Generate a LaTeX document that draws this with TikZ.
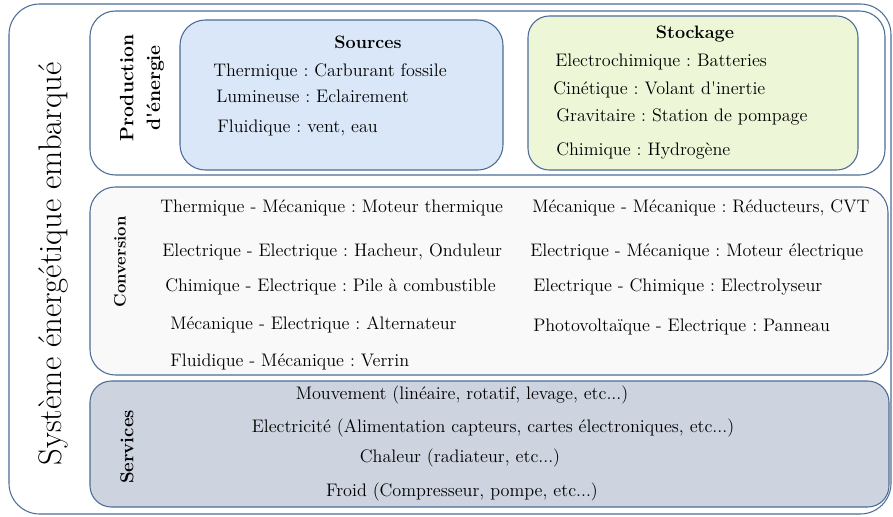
\documentclass[tikz,border=0pt]{standalone}
\usepackage{fontspec}
\definecolor{edge}{RGB}{76,108,150}
\definecolor{srcfill}{RGB}{218,231,248}
\definecolor{stofill}{RGB}{238,246,216}
\definecolor{convfill}{RGB}{249,249,249}
\definecolor{servfill}{RGB}{205,211,223}
\frenchspacing
\begin{document}
\begin{tikzpicture}[x=0.75pt,y=-0.75pt]
        \useasboundingbox (0,0) rectangle (893,517);
        \tikzstyle{panel}=[draw=edge, line width=0.8pt, rounded corners=19pt];
        \tikzstyle{item}=[anchor=west, inner sep=0pt, font=\fontsize{13.6}{16}\selectfont];
        \tikzstyle{line}=[inner sep=0pt, font=\fontsize{13.6}{16}\selectfont];
        \tikzstyle{title}=[inner sep=0pt, font=\bfseries\fontsize{13.5}{16}\selectfont];
        \tikzstyle{side}=[rotate=90, inner sep=0pt, align=center, font=\bfseries\fontsize{14}{16}\selectfont];

        % frames
        \draw[panel, fill=white, rounded corners=23pt] (9,4) rectangle (891,514);
        \draw[panel, fill=white] (90,11) rectangle (885,175);
        \draw[panel, fill=srcfill] (180,20) rectangle (503,170);
        \draw[panel, fill=stofill, rounded corners=16pt] (528,16) rectangle (858,170);
        \draw[panel, fill=convfill] (90,187) rectangle (888,375);
        \draw[panel, fill=servfill, rounded corners=16pt] (90,381) rectangle (889,507);

        \node (systeme) [rotate=90, inner sep=0pt, font=\fontsize{24.5}{28}\selectfont] at (53,264) {Système énergétique embarqué};
        \node (production) [side, font=\bfseries\fontsize{14.5}{20}\selectfont] at (142,88) {Production\\d\textquotesingle énergie};
        \node (conversion) [side, font=\bfseries\fontsize{12.5}{14}\selectfont] at (120,262) {Conversion};
        \node (services) [side] at (127,447) {Services};

        % sources
        \node (sources) [title] at (368,42) {Sources};
        \node (thermique) [item] at (213,72) {Thermique : Carburant fossile};
        \node (lumineuse) [item] at (216,96) {Lumineuse : Eclairement};
        \node (fluidique) [item] at (217,128) {Fluidique : vent, eau};

        % stockage
        \node (stockage) [title] at (695,34) {Stockage};
        \node (electrochimique) [item] at (555,62) {Electrochimique : Batteries};
        \node (cinetique) [item] at (553,90) {Cinétique : Volant d\textquotesingle inertie};
        \node (gravitaire) [item] at (556,117) {Gravitaire : Station de pompage};
        \node (chimique) [item] at (556,151) {Chimique : Hydrogène};

        % conversion
        \node (thmeca) [item] at (160,208) {Thermique - Mécanique : Moteur thermique};
        \node (elel) [item] at (162,252) {Electrique - Electrique : Hacheur, Onduleur};
        \node (chel) [item] at (165,287) {Chimique - Electrique : Pile à combustible};
        \node (mecel) [item] at (170,325) {Mécanique - Electrique : Alternateur};
        \node (flmeca) [item] at (170,362) {Fluidique - Mécanique : Verrin};
        \node (mecmec) [item] at (532,208) {Mécanique - Mécanique : Réducteurs, CVT};
        \node (elmeca) [item] at (530,252) {Electrique - Mécanique : Moteur électrique};
        \node (elch) [item] at (533,287) {Electrique - Chimique : Electrolyseur};
        \node (photo) [item] at (533,327) {Photovoltaïque - Electrique : Panneau};

        % services
        \node (mouvement) [line] at (462,395) {Mouvement (linéaire, rotatif, levage, etc...)};
        \node (electricite) [line] at (493,428) {Electricité (Alimentation capteurs, cartes électroniques, etc...)};
        \node (chaleur) [line] at (460,458) {Chaleur (radiateur, etc...)};
        \node (froid) [line] at (462,492) {Froid (Compresseur, pompe, etc...)};
\end{tikzpicture}
\end{document}
